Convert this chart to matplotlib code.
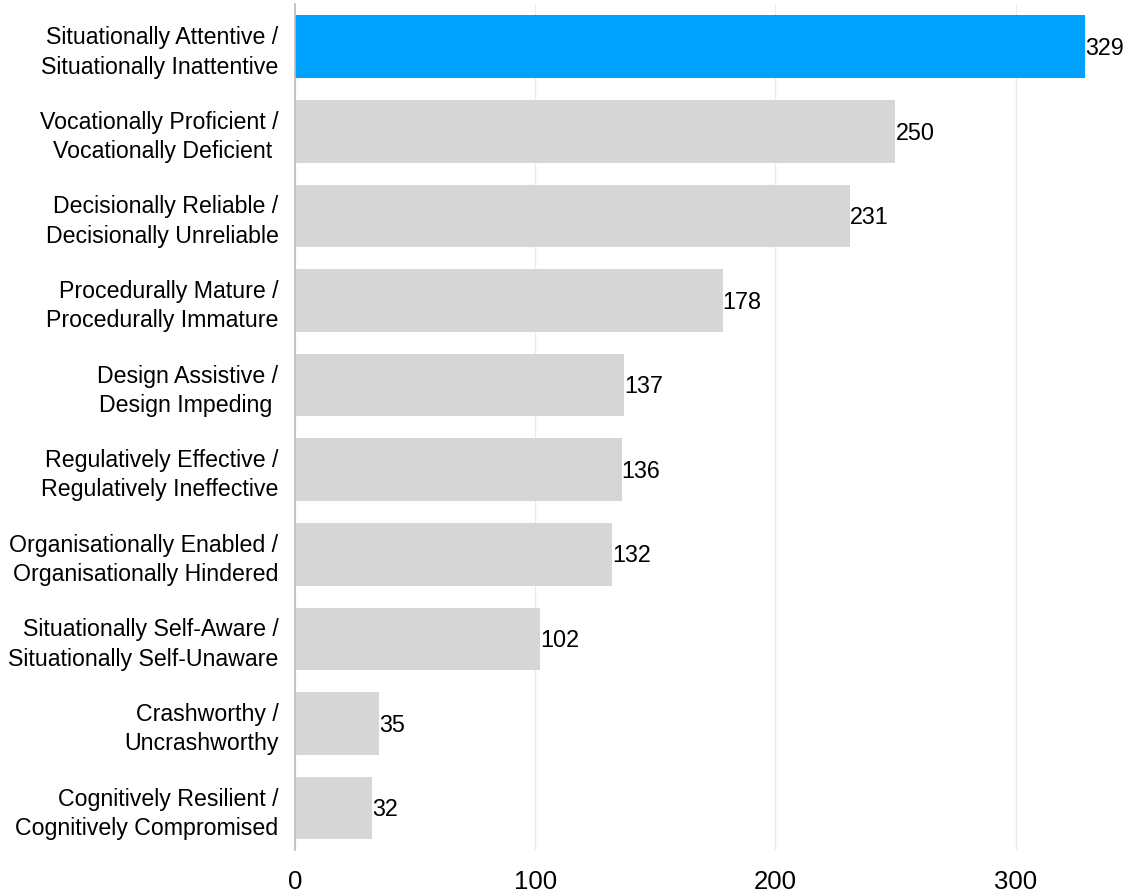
import matplotlib
matplotlib.use("Agg")
import matplotlib.pyplot as plt

categories = [
    "Situationally Attentive /\nSituationally Inattentive",
    "Vocationally Proficient /\nVocationally Deficient ",
    "Decisionally Reliable /\nDecisionally Unreliable",
    "Procedurally Mature /\nProcedurally Immature",
    "Design Assistive /\nDesign Impeding ",
    "Regulatively Effective /\nRegulatively Ineffective",
    "Organisationally Enabled /\nOrganisationally Hindered",
    "Situationally Self-Aware /\nSituationally Self-Unaware",
    "Crashworthy /\nUncrashworthy",
    "Cognitively Resilient /\nCognitively Compromised",
]
values = [329, 250, 231, 178, 137, 136, 132, 102, 35, 32]
xticks = [0, 100, 200, 300]

plt.rcParams["font.family"] = ["Liberation Sans", "DejaVu Sans"]

fig = plt.figure(figsize=(11.35, 8.96), dpi=100)
ax = fig.add_axes([0.26, 0.051, 0.73, 0.944])

pos = list(range(len(values)))
colors = ["#00A2FF"] + ["#D6D6D6"] * (len(values) - 1)
bars = ax.barh(pos, values, height=0.74, color=colors, zorder=2)
for b, v in zip(bars, values):
    ax.text(v, b.get_y() + b.get_height() / 2 + 0.02, str(v), ha="left", va="center",
            fontsize=16.8, color="black")

ax.set_ylim(len(values) - 0.5, -0.5)
ax.set_xlim(0, 345)
ax.set_yticks(pos)
ax.set_yticklabels(categories, fontsize=16.7, linespacing=1.35)
ax.set_xticks(xticks)
ax.set_xticklabels([str(t) for t in xticks], fontsize=18.5)
ax.tick_params(axis="y", length=0, pad=12)
ax.tick_params(axis="x", length=0, pad=14)
ax.xaxis.grid(True, color="#EBEBEB", linewidth=1, zorder=0)
for s in ["top", "right", "bottom"]:
    ax.spines[s].set_visible(False)
ax.spines["left"].set_color("#BBBBBB")
ax.spines["left"].set_linewidth(1.2)
ax.spines["left"].set_zorder(3)

fig.savefig("out.png", dpi=100)
